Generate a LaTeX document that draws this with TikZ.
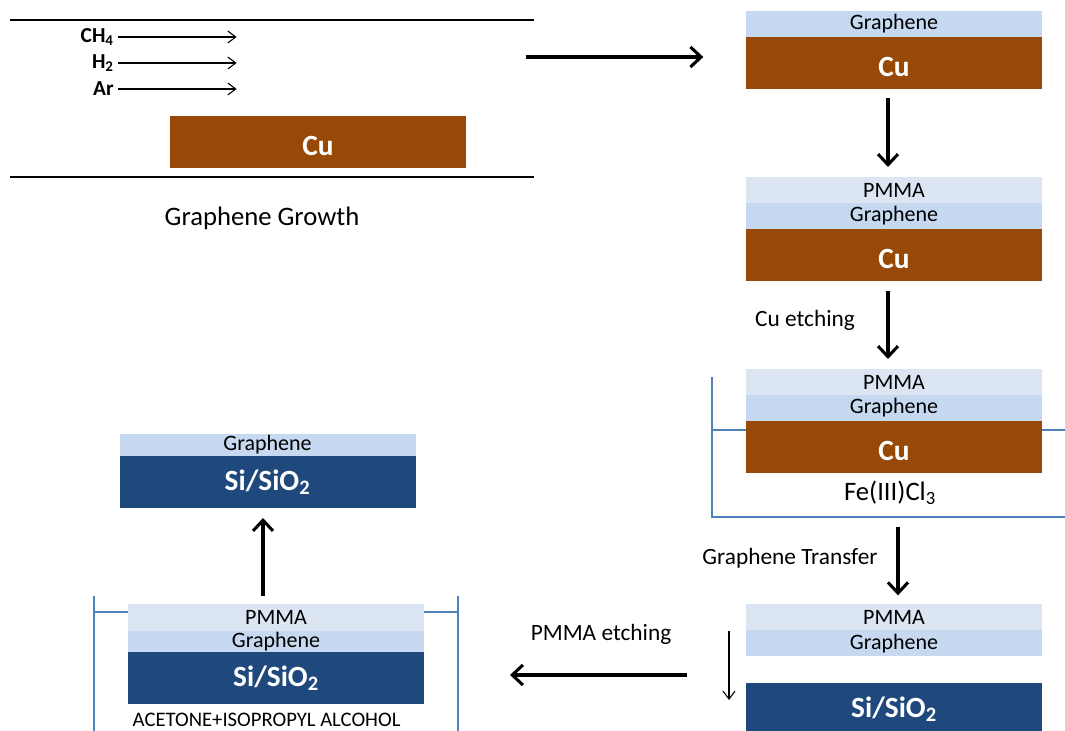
\documentclass[tikz,border=0pt]{standalone}
\usepackage{fontspec}
\setmainfont{Carlito}
\usetikzlibrary{positioning,arrows.meta}
\definecolor{cubrown}{HTML}{984807}
\definecolor{grblue}{HTML}{C6D9F1}
\definecolor{pmgrey}{HTML}{DCE6F2}
\definecolor{sinavy}{HTML}{1F497D}
\definecolor{bathblue}{HTML}{4F81BD}
\newcommand{\fsz}[1]{\fontsize{#1}{#1}\selectfont}
\tikzset{
  >={Straight Barb[length=8pt,width=15pt]},
  layer/.style={rectangle, minimum width=222pt, inner sep=0pt, outer sep=0pt},
  pmma/.style={layer, fill=pmgrey, minimum height=19.5pt, font=\fsz{16.5}},
  graphene/.style={layer, fill=grblue, minimum height=19.5pt, font=\fsz{16.5}},
  copper/.style={layer, fill=cubrown, minimum height=39pt, text=white, font=\bfseries\fsz{22}, text height=20pt, text depth=0pt},
  silicon/.style={layer, fill=sinavy, minimum height=39pt, text=white, font=\bfseries\fsz{22}},
  bath/.style={draw=bathblue, line width=1.5pt},
  liquid/.style={draw=bathblue, line width=0.9pt},
  steptext/.style={font=\fsz{17.5}},
  process/.style={->, line width=2.3pt},
  gas/.style={-{Straight Barb[length=6pt,width=9pt]}, line width=0.8pt},
}

\begin{document}
\begin{tikzpicture}[x=0.75pt, y=-0.75pt]
    \useasboundingbox (0,0) rectangle (1065,731);

    % growth tube
    \draw[line width=1.1pt] (10,20) -- (534,20);
    \draw[line width=1.1pt] (10,177) -- (534,177);
    \foreach \gas/\y in {CH\textsubscript{4}/37, H\textsubscript{2}/63, Ar/89}{
      \node[anchor=east, inner sep=0pt, font=\bfseries\fsz{16}] (gas\y) at (114,\y) {\gas};
      \draw[gas] ([xshift=3pt]gas\y.east) -- ++(89pt,0);
    }
    \node[copper] (cu0) at (318,142) {Cu};
    \node[font=\fsz{20}] (growth) at (262,218) {Graphene Growth};
    \coordinate (tubeout) at (526,57);

    % baths
    \draw[bath] (712,377) |- (1065,517);
    \draw[liquid] (712,430) -- (746,430) (1042,430) -- (1065,430);
    \draw[bath] (94,596) -- (94,740) (458,596) -- (458,740);
    \draw[liquid] (94,612) -- (128,612) (424,612) -- (458,612);

    % stack 1
    \node[copper] (cu1) at (894,63) {Cu};
    \node[graphene, above=0pt of cu1] (gr1) {Graphene};
    % stack 2
    \node[copper] (cu2) at (894,255) {Cu};
    \node[graphene, above=0pt of cu2] (gr2) {Graphene};
    \node[pmma, above=0pt of gr2] (pm2) {PMMA};
    % stack 3
    \node[copper] (cu3) at (894,447) {Cu};
    \node[graphene, above=0pt of cu3] (gr3) {Graphene};
    \node[pmma, above=0pt of gr3] (pm3) {PMMA};
    \node[font=\fsz{20}] (fecl) at (890,493) {Fe(III)Cl\textsubscript{3}};
    % stack 4
    \node[silicon] (si4) at (894,709) {Si/SiO\textsubscript{2}};
    \node[graphene, above=20pt of si4] (gr4) {Graphene};
    \node[pmma, above=0pt of gr4] (pm4) {PMMA};
    % stack 5
    \node[silicon] (si5) at (276,678) {Si/SiO\textsubscript{2}};
    \node[graphene, above=0pt of si5, minimum height=15.75pt] (gr5) {Graphene};
    \node[pmma, above=0pt of gr5, minimum height=20.25pt] (pm5) {PMMA};
    \node[anchor=west, font=\fsz{15.5}] (solvent) at (128,720) {ACETONE+ISOPROPYL ALCOHOL};
    % stack 6
    \node[silicon] (si6) at (267.5,482) {Si/SiO\textsubscript{2}};
    \node[graphene, above=0pt of si6, minimum height=16.5pt] (gr6) {Graphene};

    % steps
    \draw[process, shorten >=32pt] (tubeout) -- (tubeout -| cu1.west);
    \draw[process, shorten <=6.75pt, shorten >=7.5pt] ([xshift=-4.5pt]cu1.south) -- ([xshift=-4.5pt]pm2.north);
    \draw[process, shorten <=7.5pt, shorten >=7.5pt] ([xshift=-4.5pt]cu2.south) -- ([xshift=-4.5pt]pm3.north);
    \node[steptext] (etch) at (805,320) {Cu etching};
    \draw[process, shorten <=40.5pt, shorten >=6.75pt] ([xshift=3pt]cu3.south) -- ([xshift=3pt]pm4.north);
    \node[steptext] (transfer) at (790,558) {Graphene Transfer};
    \coordinate (dropA) at (729,631);
    \coordinate (dropB) at (729,700);
    \draw[gas] (dropA) -- (dropB);
    \coordinate (etchA) at (687,675);
    \draw[process, shorten >=64.5pt] (etchA) -- (etchA -| pm5.east);
    \node[steptext] (pmetch) at (601,634) {PMMA etching};
    \draw[process, shorten >=13.5pt] ([xshift=-9.75pt,yshift=6pt]pm5.north) -- ([xshift=-9.75pt,yshift=6pt]pm5.north |- si6.south);
\end{tikzpicture}
\end{document}
